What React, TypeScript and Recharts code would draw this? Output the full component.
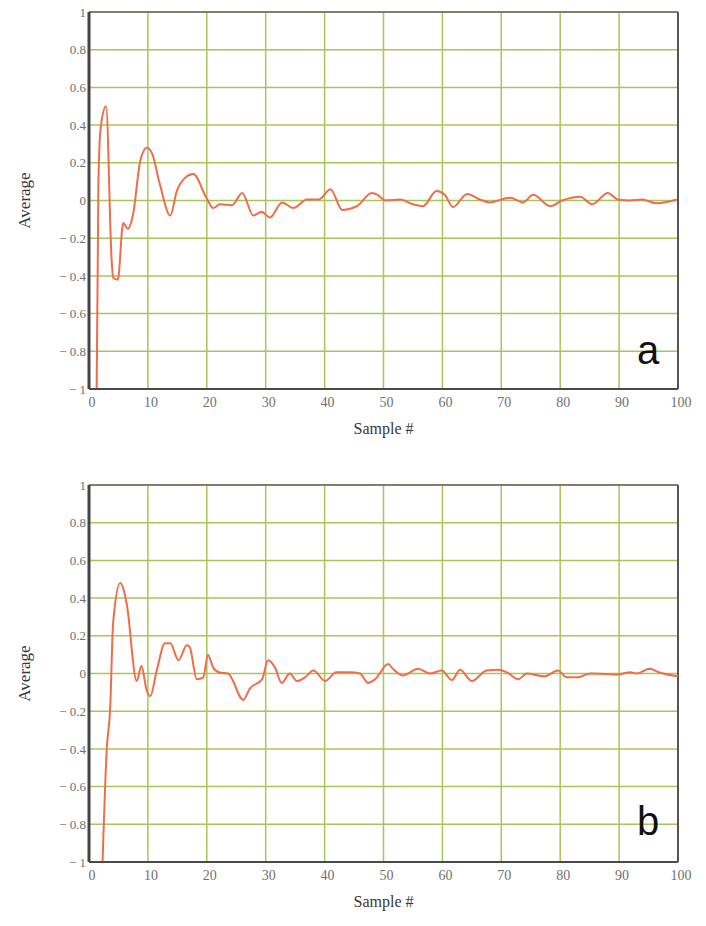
import React from "react";
import {
  LineChart,
  Line,
  XAxis,
  YAxis,
  CartesianGrid,
  ReferenceLine,
  Label,
} from "recharts";

// run (a): sample position / running average
const sampleA = [
  1.3, 1.6, 2.0, 2.9, 3.85, 4.1, 4.9, 5.8, 6.6, 7.5,
  8.7, 9.8, 10.7, 12.0, 13.8, 14.9, 16.3, 17.7, 20.0, 21.1,
  22.2, 24.3, 26.0, 27.9, 29.3, 30.7, 32.8, 34.7, 37.0, 39.0,
  41.0, 43.0, 45.5, 48.0, 49.0, 50.3, 52.8, 55.0, 56.7, 59.0,
  60.4, 61.8, 64.2, 66.4, 68.0, 71.5, 73.7, 75.4, 78.3, 80.3,
  83.4, 85.4, 88.1, 89.8, 91.8, 93.9, 96.4, 99.8,
];
const averageA = [
  -1.0, 0.1, 0.39, 0.5, -0.32, -0.41, -0.42, -0.12, -0.15, -0.07,
  0.21, 0.28, 0.25, 0.09, -0.08, 0.05, 0.12, 0.14, 0.01, -0.04,
  -0.02, -0.025, 0.04, -0.08, -0.06, -0.09, -0.01, -0.04, 0.005, 0.005,
  0.06, -0.05, -0.03, 0.04, 0.03, 0, 0.005, -0.02, -0.03, 0.05,
  0.03, -0.035, 0.035, 0.005, -0.01, 0.015, -0.01, 0.03, -0.03, 0,
  0.02, -0.02, 0.04, 0.005, 0, 0.005, -0.015, 0.005,
];

// run (b)
const sampleB = [
  2.3, 3.0, 3.6, 4.1, 5.3, 6.4, 8.1, 8.9, 9.8, 10.4,
  11.5, 12.9, 13.8, 15.2, 16.6, 17.1, 18.3, 19.4, 20.2, 21.1,
  22.2, 23.6, 26.2, 27.3, 29.4, 30.4, 31.6, 32.7, 34.1, 35.3,
  36.7, 38.1, 40.1, 42.0, 44.3, 46.0, 47.4, 48.6, 50.8, 51.6,
  53.3, 55.9, 57.9, 59.9, 61.6, 63.0, 65.0, 67.5, 69.5, 70.9,
  72.9, 74.3, 77.4, 79.6, 81.1, 83.0, 85.1, 89.8, 91.9, 93.0,
  95.2, 96.7, 100,
];
const averageB = [
  -1.0, -0.41, -0.18, 0.27, 0.48, 0.37, -0.04, 0.04, -0.09, -0.12,
  0.016, 0.16, 0.16, 0.07, 0.15, 0.14, -0.03, -0.02, 0.1, 0.03,
  0.005, 0, -0.14, -0.08, -0.03, 0.07, 0.03, -0.05, 0, -0.04,
  -0.02, 0.016, -0.04, 0.007, 0.007, 0, -0.05, -0.03, 0.05, 0.025,
  -0.01, 0.025, 0, 0.016, -0.035, 0.02, -0.04, 0.016, 0.02, 0.007,
  -0.03, 0, -0.015, 0.016, -0.02, -0.02, 0, -0.005, 0.007, 0,
  0.025, 0.007, -0.015,
];

const xTicks = [0, 10, 20, 30, 40, 50, 60, 70, 80, 90, 100];
const yTicks = [-1, -0.8, -0.6, -0.4, -0.2, 0, 0.2, 0.4, 0.6, 0.8, 1];

const serif = "'Liberation Serif', 'DejaVu Serif', serif";

const formatY = (v: number): string =>
  v < 0 ? `\u2212 ${Math.abs(v)}` : `${v}`;

type PanelProps = {
  samples: number[];
  averages: number[];
  tag: string;
  height: number;
  top: number;
  bottom: number;
  tagTop: number;
};

const Panel: React.FC<PanelProps> = ({
  samples,
  averages,
  tag,
  height,
  top,
  bottom,
  tagTop,
}) => {
  const data = samples.map((s, i) => ({ sample: s, average: averages[i] }));

  return (
    <div style={{ position: "relative", width: 706, height }}>
      <LineChart
        width={706}
        height={height}
        data={data}
        margin={{ top, right: 28, bottom, left: 29 }}
      >
        <CartesianGrid stroke="#a8c55a" strokeWidth={1.5} />
        <XAxis
          dataKey="sample"
          type="number"
          domain={[0, 100]}
          ticks={xTicks}
          height={50}
          tickSize={0}
          tickMargin={8}
          axisLine={{ stroke: "#4a4a4a", strokeWidth: 2 }}
          tick={{ fill: "#707070", fontSize: 14, fontFamily: serif, dx: 3 }}
        >
          <Label
            value="Sample #"
            position="insideBottom"
            offset={5}
            style={{ fill: "#383838", fontSize: 16, fontFamily: serif }}
          />
        </XAxis>
        <YAxis
          type="number"
          domain={[-1, 1]}
          ticks={yTicks}
          width={60}
          tickSize={0}
          tickMargin={3}
          tickFormatter={formatY}
          axisLine={{ stroke: "#444", strokeWidth: 3 }}
          tick={{ fill: "#707070", fontSize: 13, fontFamily: serif }}
        >
          <Label
            value="Average"
            angle={-90}
            position="insideLeft"
            offset={-5}
            style={{
              fill: "#383838",
              fontSize: 17,
              fontFamily: serif,
              textAnchor: "middle",
            }}
          />
        </YAxis>
        <ReferenceLine y={1} stroke="#666" strokeWidth={1.5} />
        <ReferenceLine x={100} stroke="#555" strokeWidth={2} />
        <Line
          type="monotone"
          dataKey="average"
          stroke="#ef6d4a"
          strokeWidth={2}
          dot={false}
          isAnimationActive={false}
        />
      </LineChart>
      <div
        style={{
          position: "absolute",
          left: 637,
          top: tagTop,
          fontSize: 40,
          lineHeight: "40px",
          fontFamily: "'Liberation Sans', Arial, sans-serif",
          color: "#111",
        }}
      >
        {tag}
      </div>
    </div>
  );
};

export default function App() {
  return (
    <div
      style={{
        position: "absolute",
        left: 0,
        top: 0,
        width: 706,
        height: 926,
        background: "#fff",
      }}
    >
      <Panel
        samples={sampleA}
        averages={averageA}
        tag="a"
        height={470}
        top={12}
        bottom={31}
        tagTop={330}
      />
      <Panel
        samples={sampleB}
        averages={averageB}
        tag="b"
        height={456}
        top={15}
        bottom={14}
        tagTop={331}
      />
    </div>
  );
}
